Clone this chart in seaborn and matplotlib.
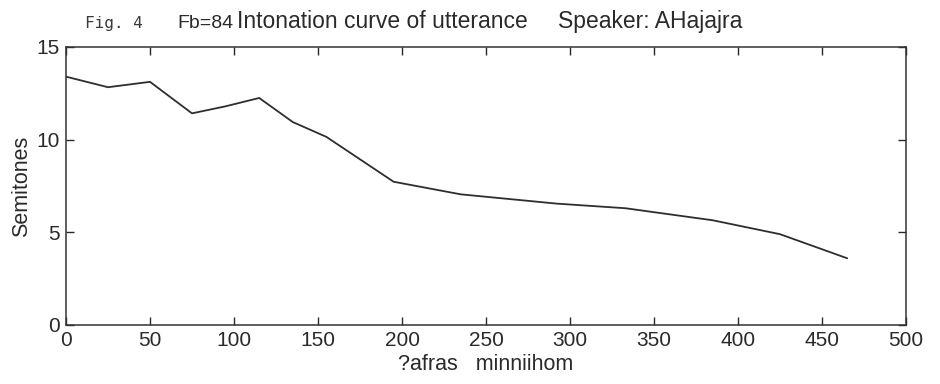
import matplotlib
matplotlib.use("Agg")
import matplotlib.pyplot as plt
import seaborn as sns
import pandas as pd

# data
time_ms = [0, 25, 50, 75, 95, 115, 135, 155, 195, 235, 292, 333, 385, 425, 465]
semitones = [13.4, 12.83, 13.12, 11.42, 11.8, 12.25, 10.95, 10.15, 7.73, 7.05, 6.55, 6.3, 5.65, 4.9, 3.6]
x_ticks = [0, 50, 100, 150, 200, 250, 300, 350, 400, 450, 500]
y_ticks = [0, 5, 10, 15]

sns.set_theme(style="ticks")
plt.rcParams["font.family"] = ["Liberation Sans", "DejaVu Sans"]

fig = plt.figure(figsize=(9.4, 3.84), dpi=100)
ax = fig.add_axes([66/940, 1-325/384, (906-66)/940, (325-47)/384])

df = pd.DataFrame({"t": time_ms, "s": semitones})
sns.lineplot(data=df, x="t", y="s", ax=ax, color="#2e2e2e", linewidth=1.3)

ax.set_xlim(0, 500)
ax.set_ylim(0, 15)
ax.set_xticks(x_ticks)
ax.set_yticks(y_ticks)
ax.tick_params(direction="in", length=6, width=1.0, top=True, right=True,
               labeltop=False, labelright=False, labelsize=15, colors="#2a2a2a", pad=4.5)
for sp in ax.spines.values():
    sp.set_visible(True)
    sp.set_color("#333333")
    sp.set_linewidth(1.1)
ax.set_xlabel("?afras   minniihom", fontsize=15.5, color="#2a2a2a", labelpad=3)
ax.set_ylabel("Semitones", fontsize=15.5, color="#2a2a2a", labelpad=3)

base = 1 - 28/384
fig.text(85/940, base, "Fig. 4", family="DejaVu Sans Mono", fontsize=11.5, color="#3a3a3a", va="baseline")
fig.text(177/940, base, "Fb=84", fontsize=14, color="#2a2a2a", va="baseline")
fig.text(237/940, base, "Intonation curve of utterance", fontsize=16.5, color="#2a2a2a", va="baseline")
fig.text(558/940, base, "Speaker: AHajajra", fontsize=16.5, color="#2a2a2a", va="baseline")

fig.savefig("out.png", dpi=100, facecolor="white")
